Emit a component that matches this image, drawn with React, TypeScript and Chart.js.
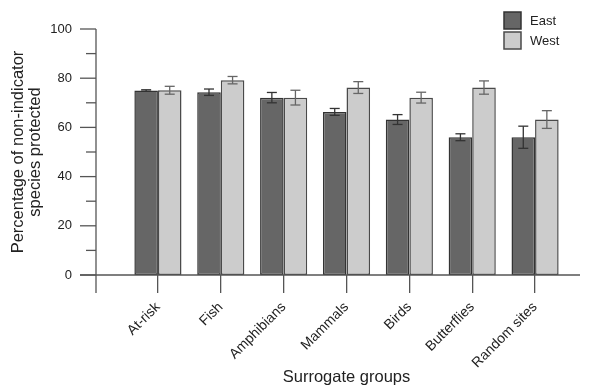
import React, { useEffect, useRef } from 'react';
import { Chart, registerables } from 'chart.js';

Chart.register(...registerables);

const categories = ['At-risk', 'Fish', 'Amphibians', 'Mammals', 'Birds', 'Butterflies', 'Random sites'];
const seriesNames = ['East', 'West'];
const eastValues = [75, 74.3, 72.1, 66.3, 63.2, 56, 56];
const eastErrors = [0.3, 1.3, 2.1, 1.4, 2.0, 1.4, 4.5];
const westValues = [75.1, 79.2, 72.1, 76.2, 72.1, 76.2, 63.2];
const westErrors = [1.6, 1.5, 3.0, 2.4, 2.2, 2.7, 3.6];
const yMajorTicks = [0, 20, 40, 60, 80, 100];
const yMinorTicks = [10, 30, 50, 70, 90];

const FONT = '"Liberation Sans", Arial, sans-serif';
const fills = ['#666666', '#cccccc'];
const strokes = ['#333333', '#4a4a4a'];
const errColors = ['#333333', '#666666'];
const errors = [eastErrors, westErrors];

const axesPlugin = {
  id: 'customAxes',
  afterDatasetsDraw(chart: any) {
    const { ctx, chartArea } = chart;
    const y = chart.scales.y;
    const axisX = chartArea.left - 30.5;
    const y0 = y.getPixelForValue(0);
    ctx.save();
    ctx.strokeStyle = '#555555';
    ctx.lineWidth = 1.3;
    const line = (x1: number, y1: number, x2: number, y2: number) => {
      ctx.beginPath();
      ctx.moveTo(x1, y1);
      ctx.lineTo(x2, y2);
      ctx.stroke();
    };
    line(axisX - 16, y0, chart.width - 17, y0);
    line(axisX, y.getPixelForValue(100), axisX, y0 + 18);
    yMajorTicks.forEach((v) => {
      const p = y.getPixelForValue(v);
      line(axisX - 16, p, axisX, p);
    });
    yMinorTicks.forEach((v) => {
      const p = y.getPixelForValue(v);
      line(axisX - 10, p, axisX, p);
    });
    // error bars
    chart.data.datasets.forEach((ds: any, di: number) => {
      const meta = chart.getDatasetMeta(di);
      ctx.strokeStyle = errColors[di];
      ctx.lineWidth = 1.3;
      meta.data.forEach((el: any, i: number) => {
        const v = ds.data[i];
        const e = errors[di][i];
        const top = y.getPixelForValue(v + e);
        const bot = y.getPixelForValue(v - e);
        const x = el.x;
        line(x, top, x, bot);
        line(x - 5, top, x + 5, top);
        line(x - 5, bot, x + 5, bot);
      });
    });
    // legend
    const lx = chart.width - 93;
    seriesNames.forEach((name, i) => {
      const ty = 12 + i * 20;
      ctx.fillStyle = fills[i];
      ctx.fillRect(lx, ty, 17, 17);
      ctx.strokeStyle = strokes[i];
      ctx.lineWidth = 1.5;
      ctx.strokeRect(lx, ty, 17, 17);
      ctx.fillStyle = '#222222';
      ctx.font = `13px ${FONT}`;
      ctx.textBaseline = 'middle';
      ctx.textAlign = 'left';
      ctx.fillText(name, lx + 26, ty + 9);
    });
    ctx.restore();
  },
};

export default function App() {
  const ref = useRef<HTMLCanvasElement>(null);
  useEffect(() => {
    document.body.style.margin = '0';
    const chart = new Chart(ref.current as HTMLCanvasElement, {
      type: 'bar',
      data: {
        labels: categories,
        datasets: [
          {
            label: seriesNames[0],
            data: eastValues,
            backgroundColor: fills[0],
            borderColor: strokes[0],
            borderWidth: 1.5,
            borderSkipped: false,
            categoryPercentage: 0.75,
            barPercentage: 1,
          },
          {
            label: seriesNames[1],
            data: westValues,
            backgroundColor: fills[1],
            borderColor: strokes[1],
            borderWidth: 1.5,
            borderSkipped: false,
            categoryPercentage: 0.75,
            barPercentage: 1,
          },
        ],
      },
      options: {
        animation: false,
        responsive: false,
        devicePixelRatio: 1,
        layout: { padding: { top: 29, right: 30.5, left: 0, bottom: 0 } },
        plugins: { legend: { display: false }, tooltip: { enabled: false } },
        scales: {
          x: {
            grid: {
              display: true,
              drawOnChartArea: false,
              drawTicks: true,
              tickLength: 18,
              offset: false,
              color: '#555555',
              lineWidth: 1.3,
            },
            border: { display: false },
            ticks: {
              autoSkip: false,
              maxRotation: 45,
              minRotation: 45,
              padding: 6,
              color: '#222222',
              font: { family: FONT, size: 14 },
            },
            title: {
              display: true,
              text: 'Surrogate groups',
              color: '#222222',
              font: { family: FONT, size: 16.5, lineHeight: 1 },
              padding: { top: 0.75, bottom: 0 },
            },
            afterFit: (s: any) => {
              s.height = 111;
            },
          },
          y: {
            min: 0,
            max: 100,
            grid: { display: false },
            border: { display: false },
            ticks: {
              stepSize: 20,
              padding: 46.5,
              color: '#222222',
              font: { family: FONT, size: 13 },
            },
            title: {
              display: true,
              text: ['Percentage of non-indicator', 'species protected'],
              color: '#222222',
              font: { family: FONT, size: 16.5, lineHeight: 1 },
              padding: { top: 10.5, bottom: 0 },
            },
            afterFit: (s: any) => {
              s.width = 126.5;
              s.paddingTop = 7;
              s.paddingBottom = 7;
            },
          },
        },
      },
      plugins: [axesPlugin],
    });
    return () => chart.destroy();
  }, []);
  return (
    <div style={{ width: 597, height: 386 }}>
      <canvas ref={ref} width={597} height={386} />
    </div>
  );
}
